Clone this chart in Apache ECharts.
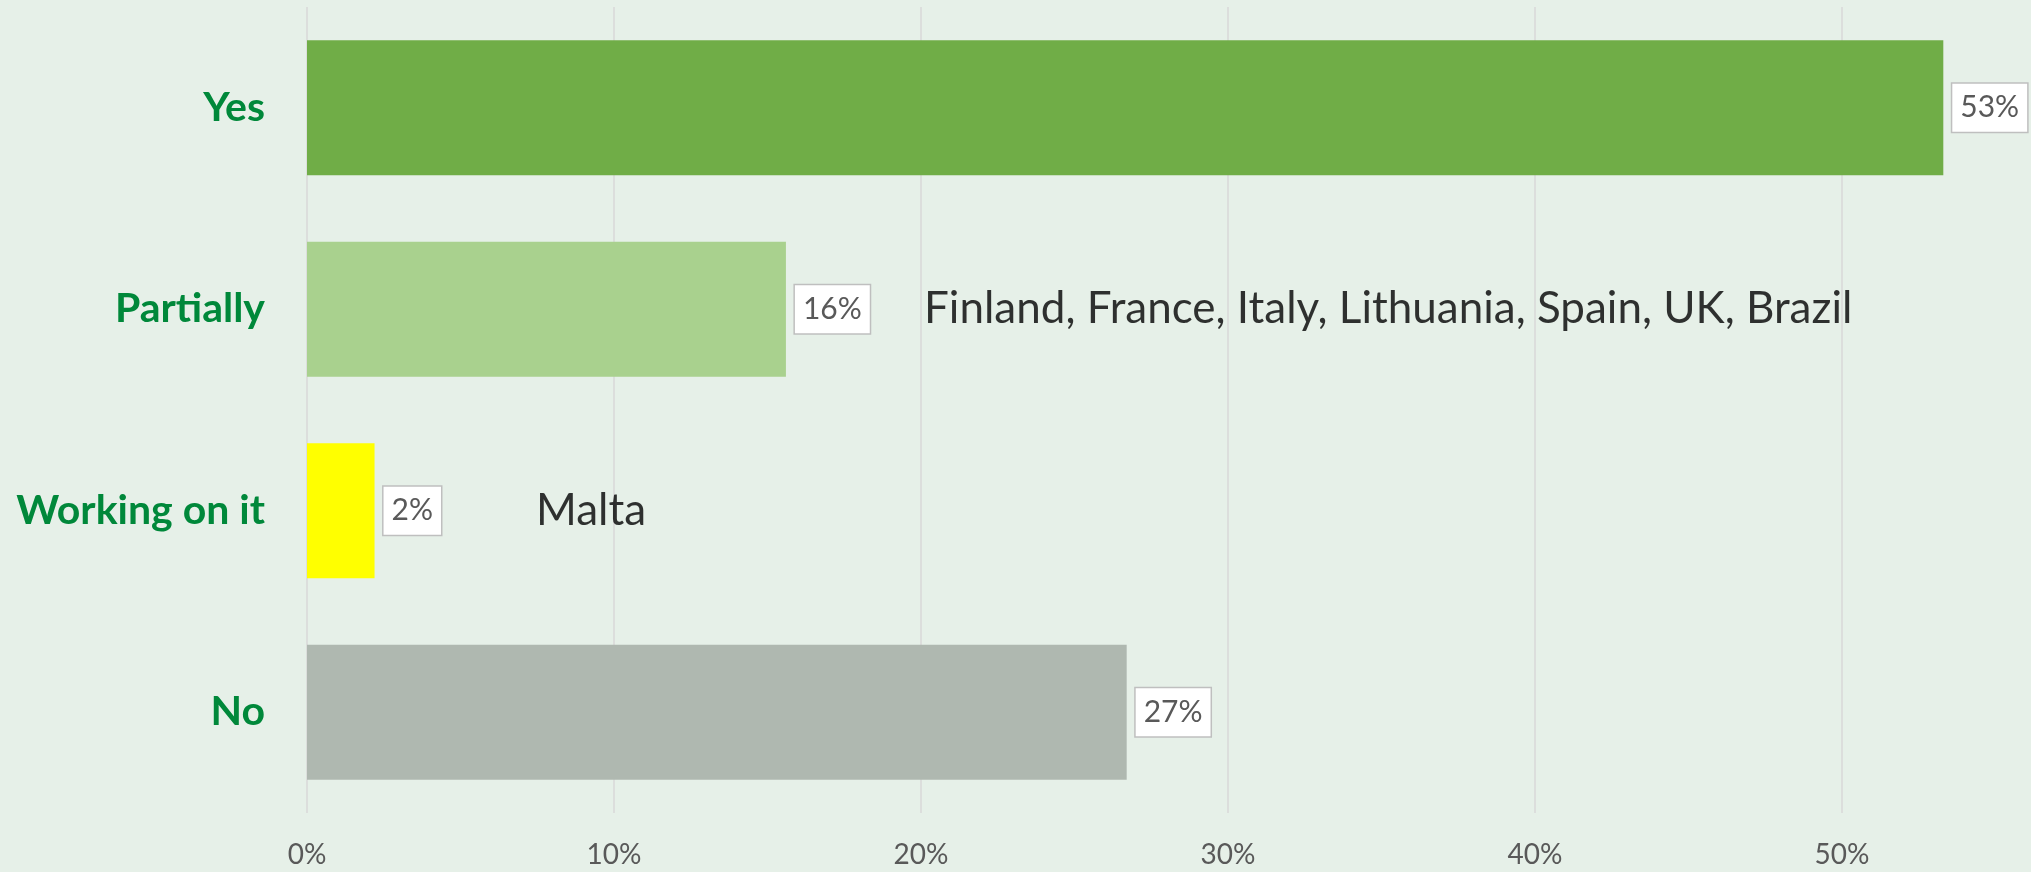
<!DOCTYPE html>
<html>
<head>
<meta charset="utf-8">
<script src="https://cdn.jsdelivr.net/npm/echarts@6/dist/echarts.min.js"></script>
<style>
html, body { margin: 0; padding: 0; background: #E6F0E8; }
#main { width: 2031px; height: 872px; }
</style>
</head>
<body>
<div id="main"></div>
<script>
// categories, top to bottom
var categories = ['Yes', 'Partially', 'Working on it', 'No'];
var shares = [0.533, 0.156, 0.022, 0.267];
var barColors = ['#70AD47', '#A9D18E', '#FFFF00', '#AFB8B0'];

// country notes written next to some bars
var noteCategories = ['Partially', 'Working on it'];
var noteX = [0.201, 0.0746];
var noteTexts = ['Finland, France, Italy, Lithuania, Spain, UK, Brazil', 'Malta'];

function MainFirst() {
	var chart = echarts.init(document.getElementById('main'));

	var barData = [];
	for (var i = 0; i < shares.length; i++) {
		barData.push({ value: shares[i], itemStyle: { color: barColors[i] } });
	}
	var noteData = [];
	for (var j = 0; j < noteTexts.length; j++) {
		noteData.push({ value: [noteX[j], noteCategories[j]], name: noteTexts[j] });
	}

	var option = {
		backgroundColor: '#E6F0E8',
		animation: false,
		// the plot runs past the right edge, as in the cropped original
		grid: { left: 307, top: 7, height: 806, width: 1842, outerBoundsMode: 'none' },
		xAxis: {
			type: 'value',
			min: 0,
			max: 0.6,
			interval: 0.1,
			axisLine: { show: false },
			axisTick: { show: false },
			splitLine: { show: true, lineStyle: { color: '#D9D9D9', width: 1.5 } },
			axisLabel: {
				margin: 28,
				fontFamily: 'Lato',
				fontSize: 28,
				color: '#595959',
				formatter: function (v) { return Math.round(v * 100) + '%'; }
			}
		},
		yAxis: {
			type: 'category',
			inverse: true,
			data: categories,
			axisLine: { show: false },
			axisTick: { show: false },
			splitLine: { show: false },
			axisLabel: {
				margin: 42,
				fontFamily: 'Lato',
				fontWeight: 'bold',
				fontSize: 41,
				color: '#00883A'
			}
		},
		series: [{
			name: 'share',
			type: 'bar',
			data: barData,
			barCategoryGap: '33%',
			label: {
				show: true,
				position: 'right',
				distance: 9,
				fontFamily: 'Lato',
				fontSize: 30,
				color: '#595959',
				backgroundColor: '#FFFFFF',
				borderColor: '#BFBFBF',
				borderWidth: 1.5,
				padding: [10, 8, 8, 8],
				formatter: function (p) { return Math.round(p.value * 100) + '%'; }
			}
		}, {
			name: 'notes',
			type: 'scatter',
			data: noteData,
			symbolSize: 0,
			silent: true,
			label: {
				show: true,
				position: 'right',
				distance: 0,
				fontFamily: 'Lato',
				fontSize: 44,
				color: '#000000',
				formatter: function (p) { return p.name; }
			}
		}]
	};
	chart.setOption(option);
}
MainFirst();
</script>
</body>
</html>
